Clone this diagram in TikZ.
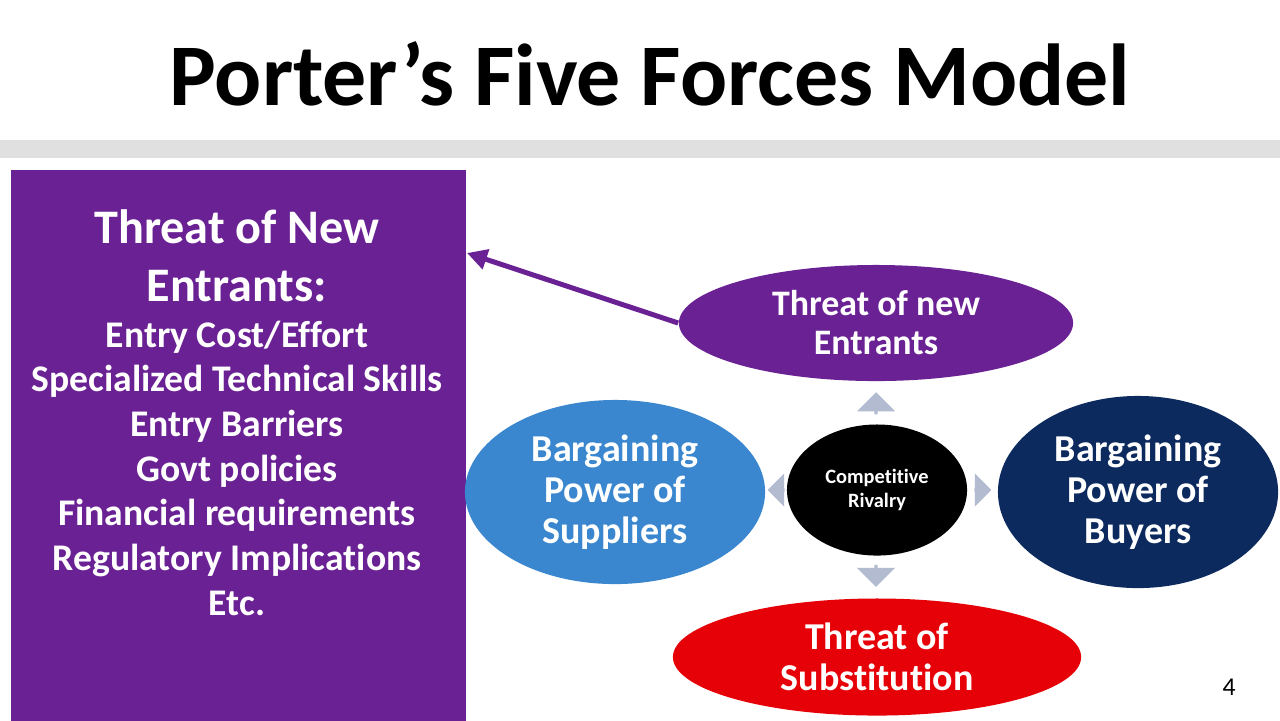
\documentclass[tikz,border=0pt]{standalone}
\usepackage{fontspec}
\setmainfont{Carlito}[Ligatures=CommonOff]
\usepackage{xcolor}
\usetikzlibrary{shapes.geometric, shapes.arrows, arrows.meta, positioning}

\definecolor{forcepurple}{HTML}{6A2194}
\definecolor{supplierblue}{HTML}{3A87CF}
\definecolor{buyernavy}{HTML}{0C2A5E}
\definecolor{substred}{HTML}{E60008}
\definecolor{flowgrey}{HTML}{B3BBD0}
\definecolor{bandgrey}{HTML}{E0E0E0}

\begin{document}
\begin{tikzpicture}[x=0.01cm, y=-0.01cm, every node/.style={text=white, inner sep=0pt}, align=center]
      % Styles
      \tikzset{
        force/.style={ellipse, draw=none},
        bigtext/.style={font=\bfseries\fontsize{10.8}{11.6}\selectfont},
        flow/.style={single arrow, fill=flowgrey, draw=none, minimum width=0.38cm, minimum height=0.22cm,
                     single arrow head extend=0.08cm, single arrow head indent=0pt},
        sideflow/.style={flow, minimum width=0.33cm, minimum height=0.17cm, single arrow head extend=0.065cm},
        pointer/.style={-{Triangle[length=0.2cm, width=0.2cm]}, line width=0.05cm, forcepurple}
      }

      % Page
      \fill[white] (0,0) rectangle (1280,720);
      \useasboundingbox (0,0) rectangle (1280,720);
      \fill[bandgrey] (0,140) rectangle (1280,158);

      % Nodes
      \node (title) [text=black, font=\bfseries\fontsize{25}{30}\selectfont] at (650,74) {Porter’s Five Forces Model};

      \node (newbox) [fill=forcepurple, minimum width=4.55cm, minimum height=5.51cm, anchor=north west] at (10,169) {};
      \node (boxhead) [font=\bfseries\fontsize{13.7}{16.5}\selectfont] at (237,256) {Threat of New\\Entrants:};
      \node (boxlist) [font=\bfseries\fontsize{10.7}{12.7}\selectfont] at (237,468)
        {Entry Cost/Effort\\Specialized Technical Skills\\Entry Barriers\\Govt policies\\Financial requirements\\Regulatory Implications\\Etc.};

      \coordinate (boxtip) at (467,253);
      \node (newent) [force, fill=forcepurple, minimum width=3.94cm, minimum height=1.16cm,
        font=\bfseries\fontsize{10.2}{11.1}\selectfont] at (876,323) {Threat of new\\Entrants};
      \node (rivalry) [force, fill=black, minimum width=1.8cm, minimum height=1.31cm,
        font=\bfseries\fontsize{5.8}{6.8}\selectfont] at (877,490) {Competitive\\Rivalry};
      \node (supplier) [force, fill=supplierblue, minimum width=3.0cm, minimum height=1.84cm, bigtext] at (615,492) {Bargaining\\Power of\\Suppliers};
      \node (buyer) [force, fill=buyernavy, minimum width=2.8cm, minimum height=1.92cm, bigtext] at (1138,492) {Bargaining\\Power of\\Buyers};
      \node (subst) [force, fill=substred, minimum width=4.08cm, minimum height=1.17cm, bigtext] at (877,657) {Threat of\\Substitution};

      \node (upflow) [flow, rotate=90] at (876,404) {};
      \node (downflow) [flow, rotate=-90] at (876,575) {};
      \node (leftflow) [sideflow, rotate=180] at (777,490) {};
      \node (rightflow) [sideflow] at (982,490) {};

      \node (pagenum) [text=black, font=\fontsize{7.3}{8}\selectfont] at (1229,687) {4};

      % Arrows
      \draw [pointer] (newent.west) -- (boxtip);
\end{tikzpicture}
\end{document}
